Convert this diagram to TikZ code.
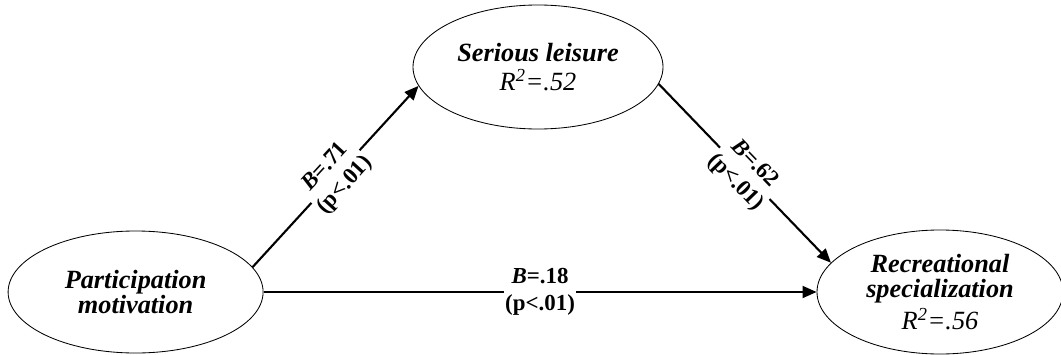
\documentclass[tikz,border=0pt]{standalone}
\usepackage{fontspec}
\setmainfont{Liberation Serif}
\usepackage{tikz}
\usetikzlibrary{shapes.geometric, arrows.meta, positioning}

\begin{document}
\begin{tikzpicture}[
    latent/.style={ellipse, draw=black, line width=0.6pt, inner sep=0pt, align=center, font=\fontsize{18.7}{18}\selectfont},
    pathlabel/.style={fill=white, inner sep=0.5pt, align=center, font=\fontsize{16.3}{19}\selectfont\bfseries},
    arrow/.style={-{Triangle[length=10pt, width=8.5pt]}, line width=1.5pt}
]
\useasboundingbox (0,0) rectangle (26.525,8.85);

% === Latent variables ===
\node[latent, minimum width=6.375cm, minimum height=3.05cm] (motiv) at (3.39, 1.55) {%
    \textbf{\textit{Participation}}\\
    \textbf{\textit{motivation}}};

\node[latent, minimum width=6.25cm, minimum height=3.1cm] (leisure) at (13.45, 7.175) {%
    \textbf{\textit{Serious leisure}}\\[3pt]
    \textit{R\textsuperscript{2}=.52}};

\node[latent, minimum width=6.15cm, minimum height=3.1cm] (special) at (23.5, 1.55) {%
    \textbf{\textit{Recreational}}\\
    \textbf{\textit{specialization}}\\[3pt]
    \textit{R\textsuperscript{2}=.56}};

% === Paths ===
\draw[arrow] (motiv.12) -- (leisure.189)
    node[pathlabel, midway, sloped] {\textit{B}=.71\\(p<.01)};

\draw[arrow] (leisure.-8.5) -- (special.165)
    node[pathlabel, midway, sloped] {\textit{B}=.62\\(p<.01)};

\draw[arrow] (motiv) -- (special)
    node[pathlabel, pos=0.5] {\textit{B}=.18\\(p<.01)};

\end{tikzpicture}
\end{document}
